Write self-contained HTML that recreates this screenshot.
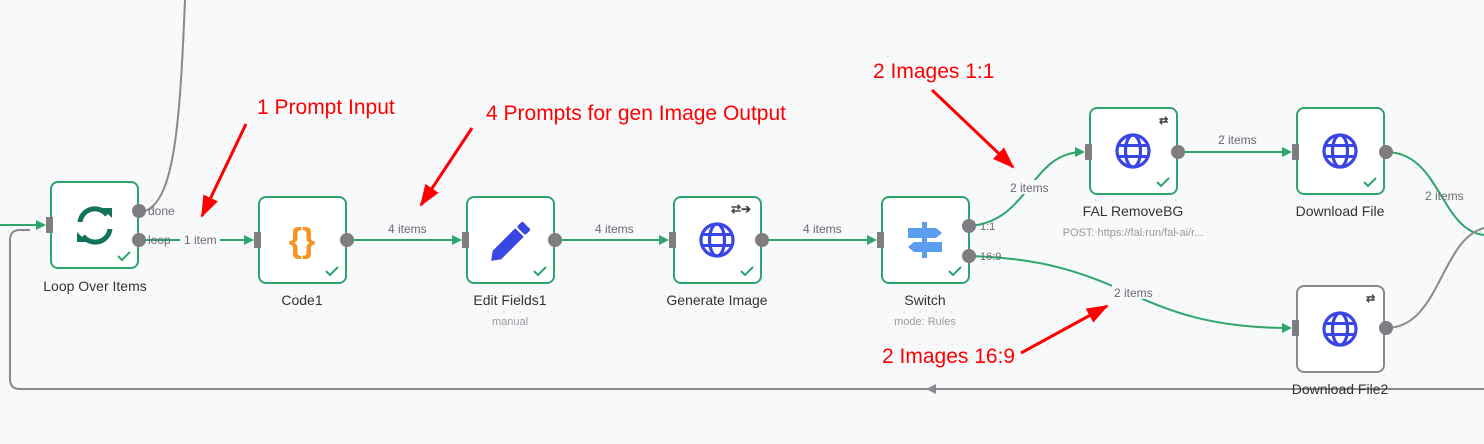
<!DOCTYPE html>
<html><head><meta charset="utf-8"><style>
html,body{margin:0;padding:0;background:#f8f9fb;}
svg{display:block;}
text{font-family:"Liberation Sans",sans-serif;}
</style></head><body>
<svg width="1484" height="444" viewBox="0 0 1484 444" xmlns="http://www.w3.org/2000/svg">
<defs>
<pattern id="dots" width="16" height="16" patternUnits="userSpaceOnUse"><circle cx="8" cy="8" r="0.9" fill="#cfd2d8"/></pattern>
<marker id="ga" markerWidth="10" markerHeight="10" refX="8" refY="5" orient="auto" markerUnits="userSpaceOnUse"><path d="M0,0 L10,5 L0,10 z" fill="#2ea56a"/></marker>
<marker id="ra" markerWidth="22" markerHeight="20" refX="20" refY="10" orient="auto" markerUnits="userSpaceOnUse"><path d="M0,2 L22,10 L0,18 z" fill="#f00"/></marker>
<g id="globe"><circle cx="0" cy="0" r="16" fill="none" stroke="#3a46e4" stroke-width="3.2"/><ellipse cx="0" cy="0" rx="7.5" ry="16" fill="none" stroke="#3a46e4" stroke-width="3.2"/><line x1="-15" y1="-5.5" x2="15" y2="-5.5" stroke="#3a46e4" stroke-width="3"/><line x1="-15" y1="5.5" x2="15" y2="5.5" stroke="#3a46e4" stroke-width="3"/></g>
<path id="chk" d="M-6,0 L-2,4 L6,-4" fill="none" stroke="#2ea56a" stroke-width="2"/>
</defs>
<rect width="1484" height="444" fill="#f8f9fb"/>
<rect width="1484" height="444" fill="url(#dots)"/>

<g fill="none" stroke-width="2">
<path d="M185,0 C180,120 175,200 145,211" stroke="#8a8a8e"/>
<path d="M0,225 L44,225" stroke="#2ea56a" marker-end="url(#ga)"/>
<path d="M1484,389 L20,389 Q10,389 10,379 L10,240 Q10,230 20,230 L30,230" stroke="#8a8a8e"/>
<path d="M139,240 L252,240" stroke="#2ea56a" marker-end="url(#ga)"/>
<path d="M347,240 L460,240" stroke="#2ea56a" marker-end="url(#ga)"/>
<path d="M555,240 L667,240" stroke="#2ea56a" marker-end="url(#ga)"/>
<path d="M762,240 L875,240" stroke="#2ea56a" marker-end="url(#ga)"/>
<path d="M969,226 C1030,222 1030,152 1083,152" stroke="#2ea56a" marker-end="url(#ga)"/>
<path d="M969,256 C1130,260 1130,328 1290,328" stroke="#2ea56a" marker-end="url(#ga)"/>
<path d="M1178,152 L1290,152" stroke="#2ea56a" marker-end="url(#ga)"/>
<path d="M1386,152 C1440,152 1440,230 1484,235" stroke="#2ea56a"/>
<path d="M1386,328 C1440,328 1440,240 1484,228" stroke="#8a8a8e"/>
</g>
<path d="M926,389 L936,384 L936,394 z" fill="#8a8a8e"/>

<g font-size="12" fill="#6b6b70">
<text x="148" y="215">done</text>
<text x="148" y="244">loop</text>
<rect x="180" y="233" width="40" height="13" fill="#f8f9fb"/>
<text x="184" y="244">1 item</text>
<text x="388" y="233">4 items</text>
<text x="595" y="233">4 items</text>
<text x="803" y="233">4 items</text>
<text x="1218" y="144">2 items</text>
<rect x="1008" y="180" width="46" height="14" fill="#f8f9fb"/>
<text x="1010" y="192">2 items</text>
<rect x="1112" y="285" width="46" height="14" fill="#f8f9fb"/>
<text x="1114" y="297">2 items</text>
<text x="1425" y="200">2 items</text>
<text x="980" y="230" font-size="11">1:1</text>
<text x="980" y="260" font-size="11">16:9</text>
</g>

<g stroke-width="2">
<rect x="51" y="182" width="87" height="86" rx="7" fill="#fff" stroke="#2ea56a"/>
<rect x="259" y="197" width="87" height="86" rx="7" fill="#fff" stroke="#2ea56a"/>
<rect x="467" y="197" width="87" height="86" rx="7" fill="#fff" stroke="#2ea56a"/>
<rect x="674" y="197" width="87" height="86" rx="7" fill="#fff" stroke="#2ea56a"/>
<rect x="882" y="197" width="87" height="86" rx="7" fill="#fff" stroke="#2ea56a"/>
<rect x="1090" y="108" width="87" height="86" rx="7" fill="#fff" stroke="#2ea56a"/>
<rect x="1297" y="108" width="87" height="86" rx="7" fill="#fff" stroke="#2ea56a"/>
<rect x="1297" y="286" width="87" height="86" rx="7" fill="#fff" stroke="#8a8a8e"/>
</g>
<g fill="#7d7d82">
<rect x="46" y="217" width="7" height="16"/>
<rect x="254" y="232" width="7" height="16"/>
<rect x="462" y="232" width="7" height="16"/>
<rect x="669" y="232" width="7" height="16"/>
<rect x="877" y="232" width="7" height="16"/>
<rect x="1085" y="144" width="7" height="16"/>
<rect x="1292" y="144" width="7" height="16"/>
<rect x="1292" y="320" width="7" height="16"/>
<circle cx="139" cy="211" r="7"/><circle cx="139" cy="240" r="7"/>
<circle cx="347" cy="240" r="7"/><circle cx="555" cy="240" r="7"/>
<circle cx="762" cy="240" r="7"/>
<circle cx="969" cy="226" r="7"/><circle cx="969" cy="256" r="7"/>
<circle cx="1178" cy="152" r="7"/><circle cx="1386" cy="152" r="7"/><circle cx="1386" cy="328" r="7"/>
</g>
<use href="#chk" x="124" y="256"/><use href="#chk" x="332" y="271"/><use href="#chk" x="540" y="271"/>
<use href="#chk" x="747" y="271"/><use href="#chk" x="955" y="271"/><use href="#chk" x="1163" y="182"/><use href="#chk" x="1370" y="182"/>

<g fill="none" stroke="#13735a" stroke-width="5" stroke-linecap="butt">
<path d="M80,222 A15,15 0 0 1 107,215"/><path d="M110,229 A15,15 0 0 1 83,236"/>
</g>
<path d="M102,208 L112,208 L112,218 z" fill="#13735a"/><path d="M87,242 L77,242 L77,232 z" fill="#13735a"/>
<text x="302" y="252" text-anchor="middle" font-size="34" fill="#f7931e" font-weight="bold" font-family="Liberation Mono,monospace">{}</text>
<g transform="translate(511,241) rotate(-45)"><rect x="-20" y="-6" width="32" height="12" fill="#3a46e4"/><rect x="14" y="-6" width="8" height="12" rx="2" fill="#3a46e4"/><path d="M-20,-6 L-28,0 L-20,6 z" fill="#3a46e4"/></g>
<use href="#globe" x="717" y="240"/><use href="#globe" x="1133" y="151"/><use href="#globe" x="1340" y="151"/><use href="#globe" x="1340" y="329"/>
<g fill="#5b9ef0"><path d="M908,228 L936,228 L942,233 L936,238 L908,238 z"/><path d="M942,242 L914,242 L908,247 L914,252 L942,252 z"/><rect x="922" y="222" width="5" height="36"/></g>
<g font-size="12" fill="#444" font-weight="bold">
<text x="731" y="213">⇄➔</text><text x="1159" y="124" font-size="11">⇄</text><text x="1366" y="302" font-size="11">⇄</text>
</g>

<g font-size="14" fill="#333" text-anchor="middle">
<text x="95" y="291">Loop Over Items</text>
<text x="302" y="305">Code1</text>
<text x="510" y="305">Edit Fields1</text>
<text x="717" y="305">Generate Image</text>
<text x="925" y="305">Switch</text>
<text x="1133" y="216">FAL RemoveBG</text>
<text x="1340" y="216">Download File</text>
<text x="1340" y="394">Download File2</text>
</g>
<g font-size="11" fill="#9a9a9e" text-anchor="middle">
<text x="510" y="325">manual</text>
<text x="925" y="325">mode: Rules</text>
<text x="1133" y="236">POST: https://fal.run/fal-ai/r...</text>
</g>

<g font-size="21" fill="#f00">
<text x="257" y="114">1 Prompt Input</text>
<text x="486" y="120">4 Prompts for gen Image Output</text>
<text x="873" y="78">2 Images 1:1</text>
<text x="882" y="363">2 Images 16:9</text>
</g>
<g stroke="#f00" stroke-width="3" fill="none">
<path d="M246,124 L202,216" marker-end="url(#ra)"/>
<path d="M472,128 L421,205" marker-end="url(#ra)"/>
<path d="M932,90 L1013,167" marker-end="url(#ra)"/>
<path d="M1021,353 L1107,306" marker-end="url(#ra)"/>
</g>
</svg>
</body></html>
